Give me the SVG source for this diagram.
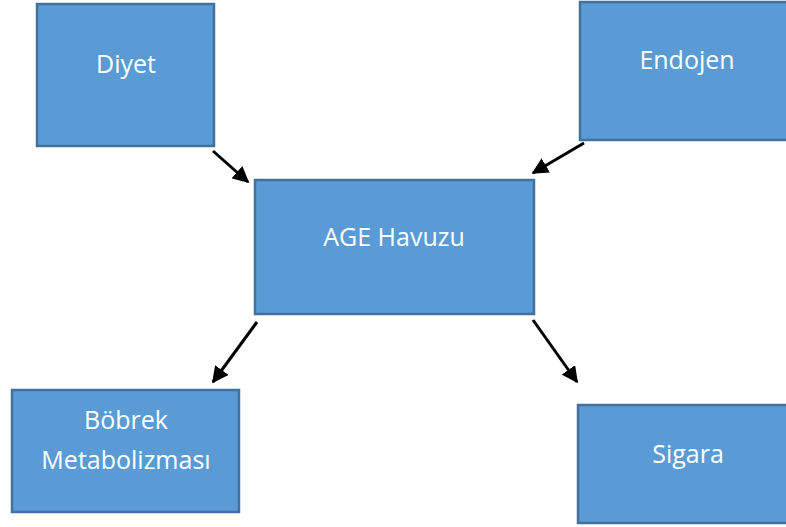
<svg xmlns="http://www.w3.org/2000/svg" width="786" height="527" viewBox="0 0 786 527">
<style>
.box{fill:#5B9BD5;stroke:#41719C;stroke-width:2.5}
.lbl{font-family:"Open Sans","Liberation Sans",sans-serif;font-size:25px;fill:#FFFFFF;text-anchor:middle}
.conn{stroke:#000;stroke-width:3;fill:none;marker-end:url(#ah)}
</style>
<defs>
<marker id="ah" viewBox="0 0 10 10" refX="9" refY="5" markerWidth="5.5" markerHeight="5.5" markerUnits="strokeWidth" orient="auto">
<path d="M0,0 L10,5 L0,10 z" fill="#000"/>
</marker>
</defs>
<rect width="786" height="527" fill="#fff"/>
<g id="diyet"><rect class="box" x="37" y="4" width="177" height="142"/><text class="lbl" x="126" y="73">Diyet</text></g>
<g id="endojen"><rect class="box" x="580" y="2" width="212" height="138"/><text class="lbl" x="687" y="69">Endojen</text></g>
<g id="age"><rect class="box" x="255" y="180" width="279" height="134"/><text class="lbl" x="394" y="246">AGE Havuzu</text></g>
<g id="bobrek"><rect class="box" x="12" y="390" width="227" height="122"/><text class="lbl" x="126" y="429">Böbrek</text><text class="lbl" x="126" y="469">Metabolizması</text></g>
<g id="sigara"><rect class="box" x="578" y="405" width="214" height="118"/><text class="lbl" x="688" y="463">Sigara</text></g>
<g id="connectors">
<line class="conn" x1="213" y1="151" x2="248" y2="182"/>
<line class="conn" x1="584" y1="143" x2="533" y2="173"/>
<line class="conn" x1="257" y1="322" x2="213" y2="382"/>
<line class="conn" x1="533" y1="320" x2="577" y2="382"/>
</g>
</svg>
